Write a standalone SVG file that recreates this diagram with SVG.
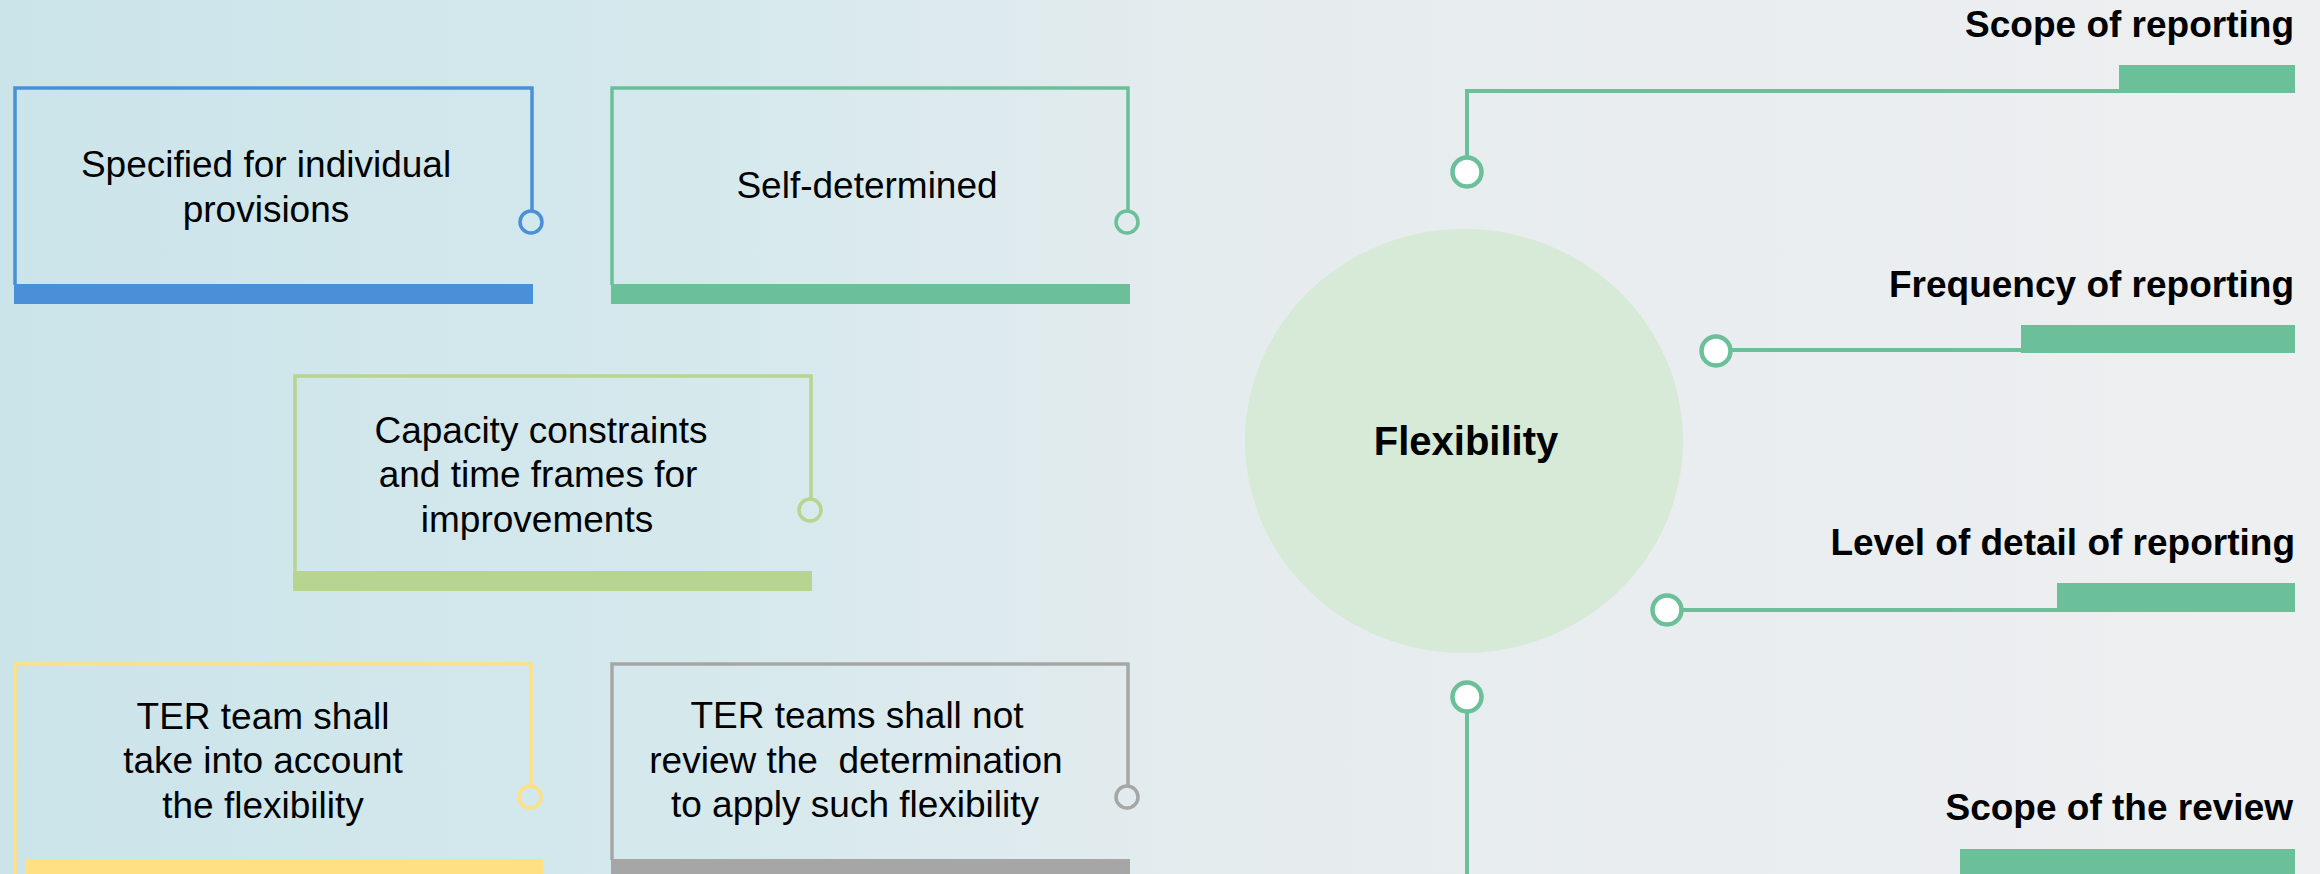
<svg xmlns="http://www.w3.org/2000/svg" width="2320" height="874" viewBox="0 0 2320 874">
  <defs>
    <linearGradient id="bg" x1="0" y1="0" x2="1" y2="0">
      <stop offset="0" stop-color="#CBE4EA"/>
      <stop offset="0.3" stop-color="#D5E9ED"/>
      <stop offset="0.55" stop-color="#E6ECEE"/>
      <stop offset="1" stop-color="#EEEFF1"/>
    </linearGradient>
  </defs>
  <style>
    .box { fill: none; stroke-width: 3.5; }
    .knob { fill: none; stroke-width: 3.5; }
    .txt { font-family: "Liberation Sans", Arial, sans-serif; font-size: 37px; fill: #000; text-anchor: middle; }
    .lbl { font-family: "Liberation Sans", Arial, sans-serif; font-size: 37px; font-weight: bold; fill: #000; text-anchor: end; }
    .conn { fill: none; stroke: #6BBF99; stroke-width: 4; }
    .dot { fill: #FFFFFF; stroke: #6BBF99; stroke-width: 4.5; }
    .gbar { fill: #6BBF99; }
  </style>
  <rect x="0" y="0" width="2320" height="874" fill="url(#bg)"/>

  <g id="node-specified">
    <path class="box" stroke="#4A90D9" d="M15,285 V88 H532 V211"/>
    <circle class="knob" stroke="#4A90D9" cx="531" cy="222" r="11"/>
    <rect x="14" y="284" width="519" height="20" fill="#4A90D9"/>
    <text class="txt" x="266" y="177">Specified for individual</text>
    <text class="txt" x="266" y="222">provisions</text>
  </g>

  <g id="node-self">
    <path class="box" stroke="#6BBF99" d="M612,285 V88 H1128 V211"/>
    <circle class="knob" stroke="#6BBF99" cx="1127" cy="222" r="11"/>
    <rect x="611" y="284" width="519" height="20" fill="#6BBF99"/>
    <text class="txt" x="867" y="198">Self-determined</text>
  </g>

  <g id="node-capacity">
    <path class="box" stroke="#B7D58E" d="M295,572 V376 H811 V498"/>
    <circle class="knob" stroke="#B7D58E" cx="810" cy="510" r="11"/>
    <rect x="293" y="571" width="519" height="20" fill="#B7D58E"/>
    <text class="txt" x="541" y="443">Capacity constraints</text>
    <text class="txt" x="538" y="487">and time frames for</text>
    <text class="txt" x="537" y="532">improvements</text>
  </g>

  <g id="node-ter-team">
    <path class="box" stroke="#FFE082" d="M15,874 V664 H531 V785"/>
    <circle class="knob" stroke="#FFE082" cx="530" cy="797" r="11"/>
    <rect x="25" y="859" width="518" height="20" fill="#FFE082"/>
    <text class="txt" x="263" y="729">TER team shall</text>
    <text class="txt" x="263" y="773">take into account</text>
    <text class="txt" x="263" y="818">the flexibility</text>
  </g>

  <g id="node-ter-teams">
    <path class="box" stroke="#A6A6A6" d="M612,860 V664 H1128 V785"/>
    <circle class="knob" stroke="#A6A6A6" cx="1127" cy="797" r="11"/>
    <rect x="611" y="859" width="519" height="20" fill="#A6A6A6"/>
    <text class="txt" x="857" y="728">TER teams shall not</text>
    <text class="txt" x="856" y="773" xml:space="preserve">review the  determination</text>
    <text class="txt" x="855" y="817">to apply such flexibility</text>
  </g>

  <g id="node-flexibility">
    <ellipse cx="1464" cy="441" rx="219" ry="212" fill="#D6EAD7"/>
    <text x="1466" y="455" font-family="'Liberation Sans', Arial, sans-serif" font-size="40" font-weight="bold" text-anchor="middle" fill="#000">Flexibility</text>
  </g>

  <g id="connectors">
    <path class="conn" d="M1467,156 V91 H2120"/>
    <path class="conn" d="M1731,350 H2022"/>
    <path class="conn" d="M1683,610 H2058"/>
    <path class="conn" d="M1467,713 V880"/>
  </g>

  <g id="node-scope-reporting">
    <rect class="gbar" x="2119" y="65" width="176" height="28"/>
    <circle class="dot" cx="1467" cy="172" r="14.5"/>
    <text class="lbl" x="2294" y="37">Scope of reporting</text>
  </g>

  <g id="node-frequency">
    <rect class="gbar" x="2021" y="325" width="274" height="28"/>
    <circle class="dot" cx="1716" cy="351" r="14.5"/>
    <text class="lbl" x="2294" y="297">Frequency of reporting</text>
  </g>

  <g id="node-level">
    <rect class="gbar" x="2057" y="583" width="238" height="29"/>
    <circle class="dot" cx="1667" cy="610" r="14.5"/>
    <text class="lbl" x="2295" y="555">Level of detail of reporting</text>
  </g>

  <g id="node-scope-review">
    <rect class="gbar" x="1960" y="849" width="335" height="30"/>
    <circle class="dot" cx="1467" cy="697" r="14.5"/>
    <text class="lbl" x="2293" y="820">Scope of the review</text>
  </g>
</svg>
